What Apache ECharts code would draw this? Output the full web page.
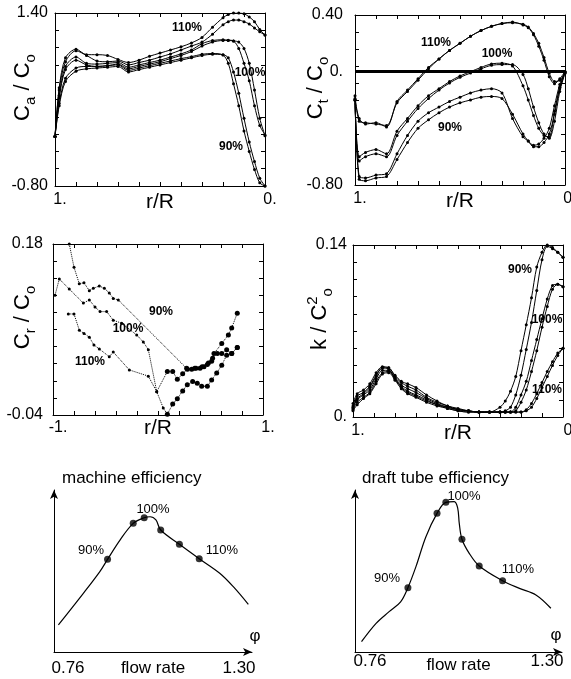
<!DOCTYPE html>
<html><head><meta charset="utf-8">
<script src="https://cdn.jsdelivr.net/npm/echarts@6/dist/echarts.min.js"></script>
<style>html,body{margin:0;padding:0;background:#fff}#c{width:571px;height:679px}</style>
</head><body><div id="c"></div>
<script>
// ---------- Panel 1: Ca / Co ----------
const caX = [1.0, 0.98, 0.95, 0.9, 0.85, 0.8, 0.75, 0.7, 0.65, 0.6, 0.55, 0.5, 0.45, 0.4, 0.35, 0.3, 0.25, 0.2, 0.175, 0.15, 0.125, 0.1, 0.075, 0.05, 0.025, 0.0];
const ca110a = [-0.17, 0.45, 0.83, 0.94, 0.87, 0.87, 0.86, 0.81, 0.77, 0.80, 0.85, 0.89, 0.93, 0.97, 1.02, 1.09, 1.22, 1.34, 1.38, 1.40, 1.40, 1.39, 1.35, 1.29, 1.19, 1.12];
const ca110b = [-0.17, 0.42, 0.78, 0.92, 0.86, 0.79, 0.78, 0.79, 0.74, 0.77, 0.80, 0.84, 0.88, 0.93, 0.98, 1.03, 1.13, 1.25, 1.29, 1.31, 1.31, 1.29, 1.26, 1.21, 1.16, 1.12];
const ca100a = [-0.17, 0.35, 0.72, 0.84, 0.76, 0.75, 0.76, 0.77, 0.71, 0.74, 0.77, 0.80, 0.84, 0.88, 0.93, 1.01, 1.05, 1.06, 1.055, 1.045, 0.95, 0.76, 0.54, 0.22, -0.03, -0.15];
const ca100b = [-0.17, 0.32, 0.68, 0.80, 0.74, 0.72, 0.73, 0.75, 0.69, 0.72, 0.75, 0.78, 0.82, 0.86, 0.91, 0.98, 1.03, 1.05, 1.05, 1.045, 1.03, 0.95, 0.76, 0.42, 0.06, -0.16];
const ca90a = [-0.17, 0.25, 0.57, 0.70, 0.72, 0.72, 0.73, 0.74, 0.67, 0.70, 0.73, 0.76, 0.79, 0.82, 0.845, 0.875, 0.885, 0.866, 0.76, 0.50, 0.22, -0.10, -0.36, -0.59, -0.76, -0.80];
const ca90b = [-0.17, 0.22, 0.53, 0.66, 0.69, 0.70, 0.71, 0.72, 0.65, 0.68, 0.71, 0.74, 0.77, 0.80, 0.83, 0.86, 0.875, 0.87, 0.83, 0.65, 0.38, 0.06, -0.24, -0.49, -0.70, -0.80];

// ---------- Panel 2: Ct / Co ----------
const ctX = [1.0, 0.98, 0.95, 0.9, 0.85, 0.8, 0.75, 0.7, 0.65, 0.6, 0.55, 0.5, 0.45, 0.4, 0.35, 0.3, 0.25, 0.2, 0.175, 0.15, 0.125, 0.1, 0.075, 0.05, 0.025, 0.0];
const ct110a = [-0.19, -0.33, -0.37, -0.36, -0.39, -0.21, -0.13, -0.05, 0.03, 0.09, 0.15, 0.20, 0.25, 0.29, 0.32, 0.34, 0.35, 0.33, 0.31, 0.26, 0.18, 0.08, -0.035, -0.085, -0.05, 0.0];
const ct110b = [-0.17, -0.35, -0.36, -0.37, -0.38, -0.22, -0.14, -0.06, 0.02, 0.09, 0.15, 0.20, 0.25, 0.29, 0.32, 0.34, 0.345, 0.335, 0.315, 0.27, 0.20, 0.10, -0.01, -0.07, -0.06, -0.01];
const ct100a = [-0.20, -0.60, -0.57, -0.55, -0.58, -0.42, -0.33, -0.24, -0.17, -0.12, -0.07, -0.03, 0.0, 0.03, 0.055, 0.06, 0.04, -0.10, -0.20, -0.31, -0.40, -0.45, -0.46, -0.28, -0.11, 0.0];
const ct100b = [-0.20, -0.63, -0.60, -0.58, -0.60, -0.45, -0.35, -0.26, -0.19, -0.13, -0.08, -0.04, -0.01, 0.02, 0.045, 0.05, 0.05, -0.02, -0.12, -0.25, -0.36, -0.44, -0.47, -0.35, -0.14, -0.01];
const ct90a = [-0.20, -0.74, -0.75, -0.73, -0.72, -0.58, -0.45, -0.35, -0.29, -0.25, -0.21, -0.18, -0.15, -0.13, -0.12, -0.15, -0.33, -0.46, -0.49, -0.52, -0.51, -0.47, -0.40, -0.24, -0.09, 0.0];
const ct90b = [-0.20, -0.76, -0.77, -0.75, -0.74, -0.62, -0.50, -0.40, -0.34, -0.29, -0.25, -0.22, -0.20, -0.18, -0.175, -0.19, -0.30, -0.44, -0.49, -0.53, -0.53, -0.50, -0.44, -0.30, -0.12, -0.01];

// ---------- Panel 3: Cr / Co ----------
const cr90X = [-0.845, -0.80, -0.75, -0.705, -0.654, -0.616, -0.559, -0.511, -0.464, -0.426, -0.378, 0.273, 0.321, 0.362, 0.40, 0.438, 0.47, 0.511, 0.533, 0.607, 0.67, 0.702, 0.755];
const cr90Y = [0.180, 0.150, 0.129, 0.130, 0.120, 0.123, 0.126, 0.123, 0.117, 0.110, 0.108, 0.020, 0.019, 0.020, 0.020, 0.022, 0.025, 0.029, 0.039, 0.052, 0.063, 0.072, 0.091];
const cr100X = [-0.981, -0.94, -0.845, -0.711, -0.654, -0.60, -0.552, -0.489, -0.426, -0.346, -0.203, -0.14, -0.092, -0.012, 0.05, 0.089, 0.14, 0.184, 0.235, 0.279, 0.33, 0.374, 0.416, 0.47, 0.511, 0.559, 0.607, 0.654, 0.702, 0.755];
const cr100Y = [0.114, 0.135, 0.122, 0.104, 0.108, 0.099, 0.093, 0.093, 0.082, 0.078, 0.063, 0.054, 0.044, -0.010, -0.031, -0.039, -0.026, -0.019, -0.009, -0.001, 0.003, 0.001, -0.003, -0.003, 0.005, 0.014, 0.024, 0.037, 0.039, 0.047];
const cr110X = [-0.854, -0.80, -0.749, -0.705, -0.654, -0.61, -0.559, -0.464, -0.426, -0.273, -0.092, -0.012, 0.089, 0.14, 0.184, 0.235, 0.28, 0.35, 0.42, 0.48, 0.52, 0.565, 0.607, 0.654, 0.702, 0.755];
const cr110Y = [0.090, 0.090, 0.069, 0.065, 0.060, 0.050, 0.045, 0.035, 0.041, 0.018, 0.010, -0.010, 0.016, 0.016, 0.006, 0.013, 0.019, 0.020, 0.022, 0.027, 0.033, 0.039, 0.039, 0.044, 0.039, 0.047];

// ---------- Panel 4: k / C2o ----------
const kX = [1.0, 0.98, 0.95, 0.92, 0.89, 0.86, 0.83, 0.8, 0.77, 0.74, 0.7, 0.65, 0.6, 0.55, 0.5, 0.45, 0.4, 0.35, 0.3, 0.275, 0.25, 0.225, 0.2, 0.175, 0.15, 0.125, 0.1, 0.075, 0.05, 0.025, 0.0];
const k90a = [0.011, 0.019, 0.022, 0.027, 0.036, 0.041, 0.040, 0.034, 0.029, 0.027, 0.024, 0.018, 0.013, 0.009, 0.007, 0.005, 0.004, 0.004, 0.008, 0.013, 0.021, 0.033, 0.054, 0.075, 0.097, 0.122, 0.134, 0.140, 0.138, 0.134, 0.130];
const k90b = [0.009, 0.017, 0.020, 0.025, 0.034, 0.040, 0.040, 0.033, 0.028, 0.025, 0.022, 0.016, 0.012, 0.009, 0.006, 0.005, 0.004, 0.004, 0.004, 0.005, 0.008, 0.018, 0.034, 0.055, 0.077, 0.103, 0.128, 0.139, 0.137, 0.134, 0.130];
const k100a = [0.008, 0.015, 0.019, 0.024, 0.033, 0.040, 0.039, 0.032, 0.026, 0.023, 0.020, 0.015, 0.011, 0.008, 0.006, 0.005, 0.004, 0.004, 0.004, 0.004, 0.004, 0.008, 0.018, 0.029, 0.046, 0.063, 0.080, 0.096, 0.107, 0.108, 0.106];
const k100b = [0.007, 0.014, 0.018, 0.022, 0.031, 0.038, 0.038, 0.031, 0.025, 0.021, 0.018, 0.014, 0.010, 0.008, 0.006, 0.005, 0.004, 0.004, 0.004, 0.004, 0.004, 0.005, 0.012, 0.022, 0.037, 0.054, 0.073, 0.090, 0.104, 0.108, 0.106];
const k110a = [0.006, 0.012, 0.016, 0.020, 0.029, 0.036, 0.037, 0.031, 0.024, 0.020, 0.017, 0.013, 0.010, 0.007, 0.005, 0.004, 0.004, 0.004, 0.004, 0.004, 0.004, 0.004, 0.004, 0.006, 0.011, 0.019, 0.028, 0.037, 0.045, 0.052, 0.056];
const k110b = [0.005, 0.010, 0.015, 0.019, 0.027, 0.035, 0.036, 0.030, 0.023, 0.019, 0.016, 0.012, 0.009, 0.007, 0.005, 0.004, 0.004, 0.004, 0.004, 0.004, 0.004, 0.004, 0.004, 0.005, 0.008, 0.015, 0.024, 0.033, 0.042, 0.050, 0.056];

// ---------- Panel 5: machine efficiency ----------
const meX = [0.772, 0.840, 0.885, 0.906, 0.940, 0.976, 1.006, 1.022, 1.038, 1.051, 1.102, 1.156, 1.212, 1.249, 1.290];
const meY = [16.7, 36.2, 49.6, 57.2, 69.1, 79.4, 82.9, 83.5, 81.5, 75.3, 66.5, 57.6, 48.6, 40.3, 29.4];
const meDotX = [0.906, 0.976, 1.006, 1.051, 1.102, 1.156];
const meDotY = [57.2, 79.4, 82.9, 75.3, 66.5, 57.6];

// ---------- Panel 6: draft tube efficiency ----------
const dtX = [0.777, 0.815, 0.849, 0.879, 0.898, 0.919, 0.945, 0.974, 0.997, 1.019, 1.028, 1.032, 1.039, 1.058, 1.084, 1.145, 1.189, 1.232, 1.271];
const dtY = [6.4, 17.7, 24.9, 31.0, 39.7, 52.7, 71.2, 85.6, 92.4, 92.8, 88.7, 79.4, 69.6, 60.9, 53.1, 44.0, 39.3, 35.2, 27.0];
const dtDotX = [0.898, 0.974, 0.997, 1.039, 1.084, 1.145];
const dtDotY = [39.7, 85.6, 92.4, 69.6, 53.1, 44.0];

// ---------- build ----------
const FONT = '"Liberation Sans", Arial, Helvetica, sans-serif';
const BLACK = '#000';
function zip(xs, ys) { return xs.map((x, i) => [x, ys[i]]); }
function divs(a, b, n) { const r = []; for (let i = 0; i <= n; i++) r.push(a + (b - a) * i / n); return r; }
function near(a, b) { return Math.abs(a - b) < 1e-9; }

const grids = [
  { left: 55, top: 13, width: 210, height: 173 },
  { left: 355, top: 15, width: 210, height: 170 },
  { left: 53, top: 244, width: 210, height: 171 },
  { left: 353, top: 245, width: 210, height: 172 },
  { left: 54, top: 490, width: 198, height: 162 },
  { left: 355, top: 490, width: 207, height: 162 }
].map(g => Object.assign({ outerBoundsMode: 'none', containLabel: false }, g));

const xAxes = [], yAxes = [];
const nameRich = {
  m: { fontSize: 22, lineHeight: 30, fontFamily: FONT, color: BLACK },
  s: { fontSize: 15, lineHeight: 15, verticalAlign: 'bottom', fontFamily: FONT, color: BLACK },
  u: { fontSize: 15, lineHeight: 15, verticalAlign: 'top', fontFamily: FONT, color: BLACK }
};
function addBox(g, c) {
  const lineSt = { color: BLACK, width: 1 };
  const xt = divs(c.xMin, c.xMax, 10), yt = divs(c.yMin, c.yMax, 10);
  xAxes.push({
    type: 'value', gridIndex: g, min: c.xMin, max: c.xMax, inverse: c.xInv, position: 'bottom',
    axisLine: { show: true, onZero: false, lineStyle: lineSt },
    axisTick: { show: true, inside: true, length: 4, customValues: xt, lineStyle: lineSt },
    axisLabel: { show: true, customValues: [c.xMin, c.xMax], margin: c.xMargin,
      formatter: v => '{p|' + c.xFmt(v) + '}',
      rich: { p: { padding: [0, 0, 0, 10], fontSize: 16, fontFamily: FONT, color: BLACK } } },
    splitLine: { show: false },
    name: 'r/R', nameLocation: 'middle', nameGap: c.xNameGap, nameMoveOverlap: false,
    nameTextStyle: { fontSize: 21, fontFamily: FONT, color: BLACK }
  });
  xAxes.push({
    type: 'value', gridIndex: g, min: c.xMin, max: c.xMax, inverse: c.xInv, position: 'top',
    axisLine: { show: true, onZero: false, lineStyle: lineSt },
    axisTick: { show: true, inside: true, length: 4, customValues: xt, lineStyle: lineSt },
    axisLabel: { show: false }, splitLine: { show: false }
  });
  yAxes.push({
    type: 'value', gridIndex: g, min: c.yMin, max: c.yMax, position: 'left',
    axisLine: { show: true, onZero: false, lineStyle: lineSt },
    axisTick: { show: true, inside: true, length: 4, customValues: yt, lineStyle: lineSt },
    axisLabel: { show: true, customValues: c.yLabels, margin: c.yMargin, formatter: c.yFmt,
      fontSize: 16, fontFamily: FONT, color: BLACK },
    splitLine: { show: false },
    name: c.yName, nameLocation: 'middle', nameRotate: 90, nameGap: c.yNameGap, nameMoveOverlap: false,
    nameTextStyle: { rich: nameRich, padding: [0, 0, 0, 24] }
  });
  yAxes.push({
    type: 'value', gridIndex: g, min: c.yMin, max: c.yMax, position: 'right',
    axisLine: { show: true, onZero: false, lineStyle: lineSt },
    axisTick: { show: true, inside: true, length: 4, customValues: yt, lineStyle: lineSt },
    axisLabel: { show: false }, splitLine: { show: false }
  });
}
function addEff(g, xPadL, xPadR, labelMargin, nameGap) {
  const lineSt = { color: BLACK, width: 1 };
  xAxes.push({
    type: 'value', gridIndex: g, min: 0.76, max: 1.30, position: 'bottom',
    axisLine: { show: true, onZero: false, symbol: ['none', 'arrow'], symbolSize: [6, 9], lineStyle: lineSt },
    axisTick: { show: false },
    axisLabel: { show: true, customValues: [0.76, 1.30], margin: labelMargin,
      formatter: v => v < 1 ? '{l|0.76}' : '{r|1.30}',
      rich: { l: { padding: [0, 0, 0, xPadL], fontSize: 17, fontFamily: FONT, color: BLACK },
              r: { padding: [0, xPadR, 0, 0], fontSize: 17, fontFamily: FONT, color: BLACK } } },
    splitLine: { show: false },
    name: 'flow rate', nameLocation: 'middle', nameGap: nameGap, nameMoveOverlap: false,
    nameTextStyle: { fontSize: 17, fontFamily: FONT, color: BLACK }
  });
  xAxes.push({ type: 'value', gridIndex: g, show: false });
  yAxes.push({
    type: 'value', gridIndex: g, min: 0, max: 100, position: 'left',
    axisLine: { show: true, onZero: false, symbol: ['none', 'arrow'], symbolSize: [6, 9], lineStyle: lineSt },
    axisTick: { show: false }, axisLabel: { show: false }, splitLine: { show: false }
  });
  yAxes.push({ type: 'value', gridIndex: g, show: false });
}

const fmtNum = (pairs) => v => { for (const [k, s] of pairs) if (near(v, k)) return s; return ''; };

addBox(0, { xMin: 0, xMax: 1, xInv: true, yMin: -0.8, yMax: 1.4,
  xFmt: fmtNum([[1, '1.'], [0, '0.']]), xMargin: 6, xNameGap: 6,
  yLabels: [-0.8, 1.4], yFmt: fmtNum([[-0.8, '-0.80'], [1.4, '1.40']]), yMargin: 7,
  yName: '{m|C}{s|a}{m| / C}{s|o}', yNameGap: 17 });
addBox(1, { xMin: 0, xMax: 1, xInv: true, yMin: -0.8, yMax: 0.4,
  xFmt: fmtNum([[1, '1.'], [0, '0.']]), xMargin: 6, xNameGap: 6,
  yLabels: [-0.8, 0, 0.4], yFmt: fmtNum([[-0.8, '-0.80'], [0, '0.'], [0.4, '0.40']]), yMargin: 12,
  yName: '{m|C}{s|t}{m| / C}{s|o}', yNameGap: 24 });
addBox(2, { xMin: -1, xMax: 1, xInv: false, yMin: -0.04, yMax: 0.18,
  xFmt: fmtNum([[-1, '-1.'], [1, '1.']]), xMargin: 5, xNameGap: 3,
  yLabels: [-0.04, 0.18], yFmt: fmtNum([[-0.04, '-0.04'], [0.18, '0.18']]), yMargin: 10,
  yName: '{m|C}{s|r}{m| / C}{s|o}', yNameGap: 15 });
addBox(3, { xMin: 0, xMax: 1, xInv: true, yMin: 0, yMax: 0.14,
  xFmt: fmtNum([[1, '1.'], [0, '0']]), xMargin: 6, xNameGap: 6,
  yLabels: [0, 0.14], yFmt: fmtNum([[0, '0.'], [0.14, '0.14']]), yMargin: 6,
  yName: '{m|k / C}{u|2}{s|o}', yNameGap: 18 });
addEff(4, 28, 26, 8, 8);
addEff(5, 30, 30, 1, 5);

const series = [];
function smoothLine(g, xs, ys, extra) {
  series.push(Object.assign({
    type: 'line', xAxisIndex: 2 * g, yAxisIndex: 2 * g, data: zip(xs, ys),
    smooth: 0.3, symbol: 'circle', symbolSize: 3, showSymbol: true,
    lineStyle: { color: BLACK, width: 1 }, itemStyle: { color: BLACK },
    silent: true, animation: false
  }, extra || {}));
}
[ca110a, ca110b, ca100a, ca100b, ca90a, ca90b].forEach(ys => smoothLine(0, caX, ys));
smoothLine(1, ctX, ct110a, {
  markLine: { silent: true, symbol: 'none', label: { show: false },
    lineStyle: { color: BLACK, width: 3, type: 'solid' }, data: [{ yAxis: 0 }] }
});
[ct110b, ct100a, ct100b, ct90a, ct90b].forEach(ys => smoothLine(1, ctX, ys));
[[cr90X, cr90Y], [cr100X, cr100Y], [cr110X, cr110Y]].forEach(([xs, ys]) => {
  series.push({
    type: 'line', xAxisIndex: 4, yAxisIndex: 4, data: zip(xs, ys), smooth: false,
    symbol: 'circle', symbolSize: v => (v[0] > 0.08 ? 5 : 3),
    lineStyle: { color: BLACK, width: 1, type: 'dotted' }, itemStyle: { color: BLACK },
    silent: true, animation: false
  });
});
[k90a, k90b, k100a, k100b, k110a, k110b].forEach(ys => smoothLine(3, kX, ys));
// efficiency
series.push({ type: 'line', xAxisIndex: 8, yAxisIndex: 8, data: zip(meX, meY), smooth: 0.35,
  showSymbol: false, symbol: 'none', lineStyle: { color: BLACK, width: 1.2 }, silent: true, animation: false });
series.push({ type: 'scatter', xAxisIndex: 8, yAxisIndex: 8, data: zip(meDotX, meDotY), symbolSize: 7,
  itemStyle: { color: BLACK }, silent: true, animation: false });
series.push({ type: 'line', xAxisIndex: 10, yAxisIndex: 10, data: zip(dtX, dtY), smooth: 0.35,
  showSymbol: false, symbol: 'none', lineStyle: { color: BLACK, width: 1.2 }, silent: true, animation: false });
series.push({ type: 'scatter', xAxisIndex: 10, yAxisIndex: 10, data: zip(dtDotX, dtDotY), symbolSize: 7,
  itemStyle: { color: BLACK }, silent: true, animation: false });

function txt(t, x, y, font, align) {
  return { type: 'text', x: x, y: y, silent: true,
    style: { text: t, font: font, fill: BLACK, align: align || 'center', verticalAlign: 'middle' } };
}
const PF = 'bold 12px ' + FONT;
const EF = '13px ' + FONT;
const graphic = [
  txt('110%', 187, 28, PF), txt('100%', 250, 73, PF), txt('90%', 231, 147, PF),
  txt('110%', 436, 43, PF), txt('100%', 497, 54, PF), txt('90%', 450, 128, PF),
  txt('90%', 161, 312, PF), txt('100%', 128, 329, PF), txt('110%', 90, 362, PF),
  txt('90%', 520, 270, PF), txt('100%', 547, 320, PF), txt('110%', 547, 390, PF),
  txt('machine efficiency', 62, 478, '17px ' + FONT, 'left'),
  txt('90%', 91, 550, EF), txt('100%', 153, 509, EF), txt('110%', 222, 550, EF),
  txt('\u03c6', 255, 636, '17px ' + FONT),
  txt('draft tube efficiency', 362, 478, '17px ' + FONT, 'left'),
  txt('90%', 387, 578, EF), txt('100%', 464, 496, EF), txt('110%', 518, 569, EF),
  txt('\u03c6', 556, 635, '17px ' + FONT)
];

const chart = echarts.init(document.getElementById('c'), null, { renderer: 'canvas' });
chart.setOption({
  animation: false,
  backgroundColor: '#fff',
  textStyle: { fontFamily: FONT, color: BLACK },
  grid: grids,
  xAxis: xAxes,
  yAxis: yAxes,
  series: series,
  graphic: graphic
});
</script></body></html>
